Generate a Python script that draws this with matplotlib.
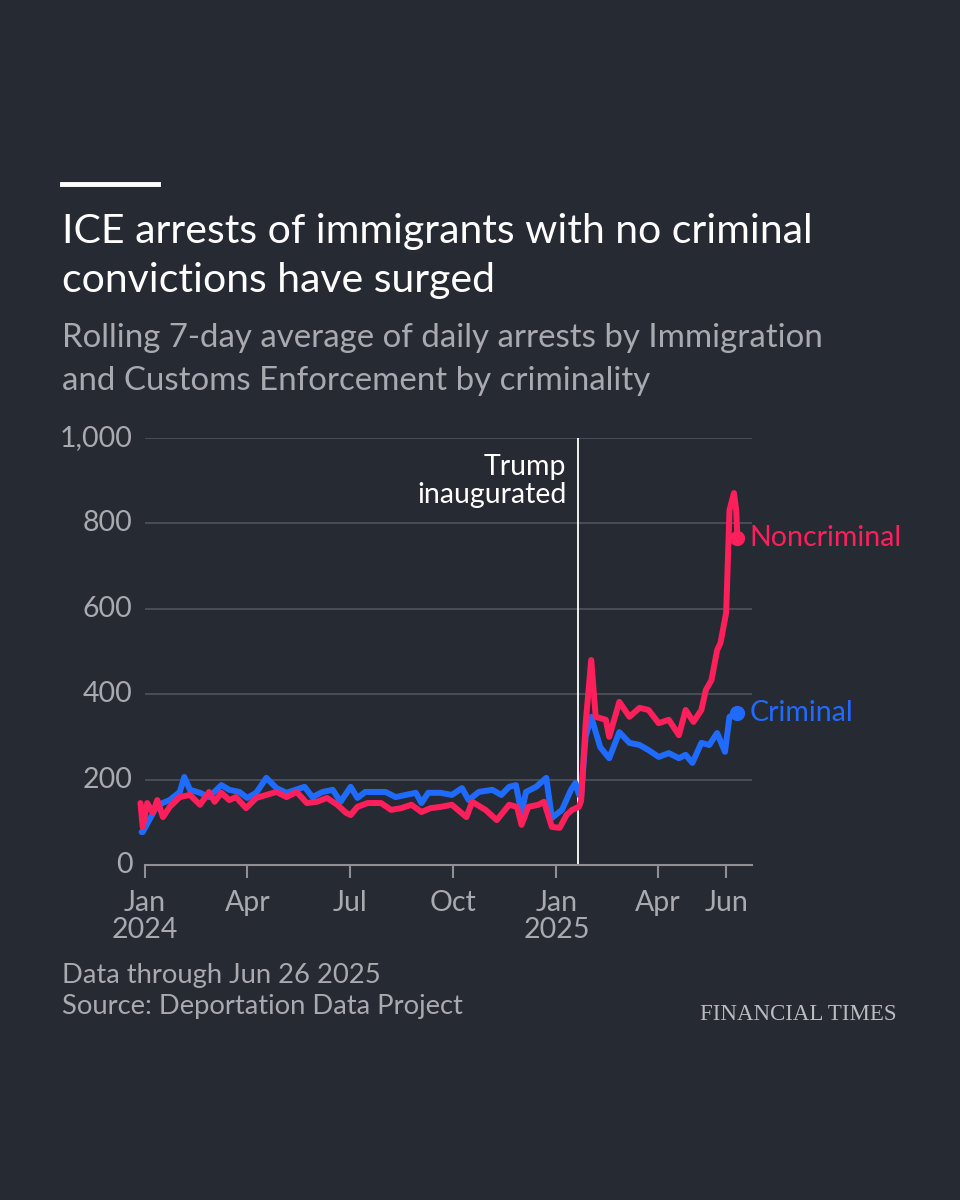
import matplotlib
matplotlib.use("Agg")
from matplotlib import pyplot as plt
import pandas as pd

# colours
bg = '#262a33'
red = '#ff1f5b'
blue = '#1f6bff'
grey_txt = '#a8aab0'
grid_c = '#4c5059'

# data (rolling 7-day average of daily arrests)
noncrim_dates = ['2023-12-28', '2023-12-30', '2024-01-03', '2024-01-08', '2024-01-12', '2024-01-17',
                 '2024-01-23', '2024-02-01', '2024-02-10', '2024-02-19', '2024-02-27', '2024-03-03',
                 '2024-03-09', '2024-03-16', '2024-03-22', '2024-03-31', '2024-04-09', '2024-04-18',
                 '2024-04-27', '2024-05-06', '2024-05-15', '2024-05-24', '2024-06-02', '2024-06-11',
                 '2024-06-20', '2024-06-28', '2024-07-02', '2024-07-08', '2024-07-17', '2024-07-29',
                 '2024-08-07', '2024-08-16', '2024-08-25', '2024-09-03', '2024-09-11', '2024-09-20',
                 '2024-09-30', '2024-10-13', '2024-10-18', '2024-10-30', '2024-11-09', '2024-11-20',
                 '2024-11-27', '2024-12-01', '2024-12-07', '2024-12-16', '2024-12-21', '2024-12-28',
                 '2025-01-04', '2025-01-10', '2025-01-15', '2025-01-21', '2025-01-23', '2025-01-27',
                 '2025-02-01', '2025-02-05', '2025-02-14', '2025-02-17', '2025-02-26', '2025-03-07',
                 '2025-03-16', '2025-03-24', '2025-04-02', '2025-04-11', '2025-04-20', '2025-04-26',
                 '2025-05-03', '2025-05-10', '2025-05-14', '2025-05-19', '2025-05-24', '2025-05-27',
                 '2025-06-01', '2025-06-02', '2025-06-04', '2025-06-08', '2025-06-10', '2025-06-11']
noncrim_vals = [145, 89, 145, 122, 152, 112,
                136, 159, 164, 141, 171, 148,
                169, 152, 159, 133, 157, 164,
                171, 159, 171, 145, 148, 157,
                141, 122, 117, 136, 145, 145,
                129, 133, 141, 124, 133, 136,
                141, 112, 148, 129, 105, 141,
                136, 94, 136, 141, 148, 89,
                87, 117, 129, 136, 150, 330,
                480, 347, 340, 300, 382, 347,
                368, 363, 332, 340, 304, 363,
                335, 363, 410, 433, 503, 520,
                590, 667, 831, 871, 831, 766]

crim_dates = ['2023-12-29', '2023-12-30', '2024-01-12', '2024-01-23', '2024-02-01', '2024-02-05',
              '2024-02-10', '2024-02-19', '2024-02-27', '2024-03-09', '2024-03-16', '2024-03-25',
              '2024-04-01', '2024-04-09', '2024-04-18', '2024-04-27', '2024-05-06', '2024-05-22',
              '2024-05-29', '2024-06-07', '2024-06-16', '2024-06-23', '2024-07-02', '2024-07-08',
              '2024-07-15', '2024-08-02', '2024-08-11', '2024-08-20', '2024-08-29', '2024-09-03',
              '2024-09-09', '2024-09-20', '2024-09-30', '2024-10-09', '2024-10-15', '2024-10-24',
              '2024-11-05', '2024-11-13', '2024-11-20', '2024-11-26', '2024-12-01', '2024-12-05',
              '2024-12-14', '2024-12-23', '2024-12-28', '2025-01-06', '2025-01-14', '2025-01-18',
              '2025-01-21', '2025-01-23', '2025-01-27', '2025-02-01', '2025-02-09', '2025-02-17',
              '2025-02-26', '2025-03-07', '2025-03-16', '2025-03-24', '2025-04-02', '2025-04-11',
              '2025-04-20', '2025-04-26', '2025-05-02', '2025-05-10', '2025-05-17', '2025-05-24',
              '2025-05-31', '2025-06-04', '2025-06-11']
crim_vals = [77, 77, 140, 152, 171, 206,
             176, 169, 159, 187, 176, 171,
             157, 169, 204, 180, 169, 183,
             159, 171, 176, 148, 183, 157,
             171, 171, 159, 164, 169, 145,
             169, 169, 164, 180, 152, 171,
             176, 164, 183, 187, 122, 171,
             183, 204, 110, 129, 176, 192,
             165, 160, 300, 347, 276, 250,
             311, 286, 281, 269, 253, 262,
             250, 258, 239, 286, 281, 309,
             265, 347, 356]

xtick_dates = ['2024-01-01', '2024-04-01', '2024-07-01', '2024-10-01', '2025-01-01', '2025-04-01', '2025-06-01']
xtick_labels = ['Jan\n2024', 'Apr', 'Jul', 'Oct', 'Jan\n2025', 'Apr', 'Jun']
yticks = [0, 200, 400, 600, 800, 1000]
ytick_labels = ['0', '200', '400', '600', '800', '1,000']
inauguration = '2025-01-20'

nd = pd.to_datetime(noncrim_dates)
cd = pd.to_datetime(crim_dates)

plt.rcParams['font.family'] = ['Lato', 'DejaVu Sans']

fig = plt.figure(figsize=(9.6, 12), dpi=100, facecolor=bg)
ax = fig.add_axes([0.151, 0.2792, 0.6323, 0.3558], facecolor=bg)

ax.plot(cd, crim_vals, color=blue, lw=4.3, solid_joinstyle='round', solid_capstyle='round', clip_on=False, zorder=3)
ax.plot(nd, noncrim_vals, color=red, lw=4.3, solid_joinstyle='round', solid_capstyle='round', clip_on=False, zorder=4)
ax.plot(cd[-1:], crim_vals[-1:], 'o', color=blue, ms=10, clip_on=False, zorder=5)
ax.plot(nd[-1:], noncrim_vals[-1:], 'o', color=red, ms=10, clip_on=False, zorder=5)

ax.axvline(pd.Timestamp(inauguration), color='white', lw=1.3, zorder=2)
ax.annotate('Trump', (pd.Timestamp(inauguration), 1000), xytext=(-8, -27), textcoords='offset points',
            color='white', fontsize=20.5, ha='right', va='baseline')
ax.annotate('inaugurated', (pd.Timestamp(inauguration), 1000), xytext=(-8, -47), textcoords='offset points',
            color='white', fontsize=20.5, ha='right', va='baseline')

ax.set_xlim(pd.Timestamp('2024-01-01'), pd.Timestamp('2025-06-24'))
ax.set_ylim(0, 1000)
ax.set_yticks(yticks)
ax.set_yticklabels(ytick_labels)
ax.set_xticks(pd.to_datetime(xtick_dates))
ax.set_xticklabels(xtick_labels, linespacing=1.05)
ax.grid(axis='y', color=grid_c, lw=1.3)
ax.set_axisbelow(True)
for s in ['top', 'right', 'left']:
    ax.spines[s].set_visible(False)
ax.spines['bottom'].set_color('#8e9096')
ax.spines['bottom'].set_linewidth(1.5)
ax.tick_params(axis='y', length=0, pad=9, labelsize=20.5, labelcolor=grey_txt)
ax.tick_params(axis='x', length=9, width=1.5, color='#8e9096', pad=9, labelsize=20.5, labelcolor=grey_txt)
for t in ax.get_yticklabels():
    t.set_verticalalignment('center')

# end labels
ax.annotate('Noncriminal', (nd[-1], noncrim_vals[-1]), xytext=(9, 0), textcoords='offset points',
            color=red, fontsize=20.5, va='center', ha='left', annotation_clip=False)
ax.annotate('Criminal', (cd[-1], crim_vals[-1]), xytext=(9, 0), textcoords='offset points',
            color=blue, fontsize=20.5, va='center', ha='left', annotation_clip=False)

# header
fig.add_artist(plt.Line2D([62/960, 158/960], [1 - 184/1200, 1 - 184/1200], color='white', lw=3.5))
fig.text(62/960, 1 - 243/1200, 'ICE arrests of immigrants with no criminal',
         color='white', fontsize=29.5, va='baseline', ha='left')
fig.text(62/960, 1 - 292/1200, 'convictions have surged',
         color='white', fontsize=29.5, va='baseline', ha='left')
fig.text(62/960, 1 - 347/1200, 'Rolling 7-day average of daily arrests by Immigration',
         color=grey_txt, fontsize=23.8, va='baseline', ha='left')
fig.text(62/960, 1 - 390/1200, 'and Customs Enforcement by criminality',
         color=grey_txt, fontsize=23.8, va='baseline', ha='left')

# footer
fig.text(62/960, 1 - 983/1200, 'Data through Jun 26 2025',
         color=grey_txt, fontsize=19.7, va='baseline', ha='left')
fig.text(62/960, 1 - 1014/1200, 'Source: Deportation Data Project',
         color=grey_txt, fontsize=19.7, va='baseline', ha='left')
fig.text(897/960, 1 - 1020/1200, 'FINANCIAL TIMES', color='#b9bbc0', fontsize=16.5,
         family=['Liberation Serif', 'DejaVu Serif'], va='baseline', ha='right')

fig.savefig('out.png', dpi=100, facecolor=bg)
